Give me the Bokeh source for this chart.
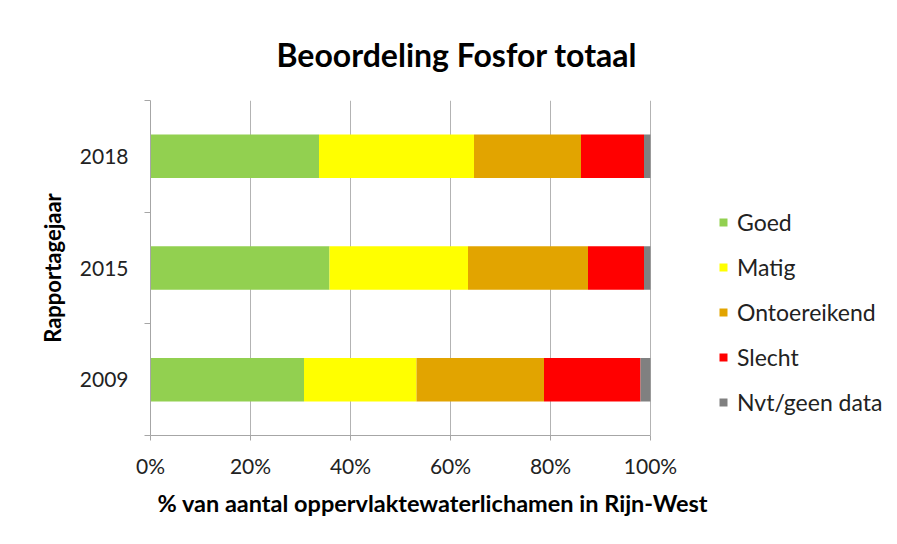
from bokeh.plotting import figure
from bokeh.models import (ColumnDataSource, FixedTicker, PrintfTickFormatter, Legend,
                          LegendItem, Title, Range1d)
from bokeh.embed import file_html
from bokeh.resources import INLINE

# ---- data ----
years = ["2009", "2015", "2018"]
categories = ["Goed", "Matig", "Ontoereikend", "Slecht", "Nvt/geen data"]
goed = [30.7, 35.8, 33.7]
matig = [22.5, 27.7, 31.0]
ontoereikend = [25.5, 24.0, 21.4]
slecht = [19.3, 11.2, 12.6]
nvt = [2.0, 1.3, 1.3]
colors = ["#92d050", "#ffff00", "#e2a400", "#ff0000", "#808080"]
x_ticks = [0, 20, 40, 60, 80, 100]

FONT = "Lato"
W, H = 892, 528
LEFT, TOP, RIGHT, BOTTOM = 150, 100, 0, 93
frame_w = W - LEFT - RIGHT
axis_px = 500  # pixel width of 0..100%
x_max = 100.0 * frame_w / axis_px

ypos = [i + 0.5 for i in range(len(years))]
source = ColumnDataSource(dict(y=ypos, Goed=goed, Matig=matig, Ontoereikend=ontoereikend,
                               Slecht=slecht, Nvt=nvt))
keys = ["Goed", "Matig", "Ontoereikend", "Slecht", "Nvt"]

p = figure(width=W, height=H, output_backend="svg", toolbar_location=None,
           x_range=Range1d(0, x_max), y_range=Range1d(0, len(years)),
           min_border_left=LEFT, min_border_right=RIGHT, min_border_top=TOP,
           min_border_bottom=BOTTOM)
p.outline_line_color = None
p.background_fill_color = "white"
p.border_fill_color = "white"

renderers = p.hbar_stack(keys, y="y", height=0.39, color=colors, source=source, line_color=None)

# title
p.title = Title(text="Beoordeling Fosfor totaal", align="left", text_font=FONT,
                text_font_size="32px", text_font_style="bold", text_color="#000000",
                offset=276 - LEFT, standoff=54)

# x label as a title below
xl = Title(text="% van aantal oppervlaktewaterlichamen in Rijn-West", align="left",
           text_font=FONT, text_font_size="23.5px", text_font_style="bold",
           text_color="#000000", offset=157 - LEFT, standoff=12)
p.add_layout(xl, "below")

# x axis
p.xaxis.ticker = FixedTicker(ticks=x_ticks)
p.xaxis.bounds = (0, 100)
p.xaxis.formatter = PrintfTickFormatter(format="%d%%")
p.xaxis.axis_line_color = "#a6a6a6"
p.xaxis.major_tick_line_color = "#a6a6a6"
p.xaxis.major_tick_out = 5
p.xaxis.major_tick_in = 0
p.xaxis.minor_tick_line_color = None
p.xaxis.major_label_text_font = FONT
p.xaxis.major_label_text_font_size = "21px"
p.xaxis.major_label_text_color = "#222222"
p.xaxis.major_label_standoff = 12

# y axis
p.yaxis.ticker = FixedTicker(ticks=ypos, minor_ticks=list(range(len(years) + 1)))
p.yaxis.major_label_overrides = {v: y for v, y in zip(ypos, years)}
p.yaxis.axis_line_color = "#a6a6a6"
p.yaxis.major_tick_line_color = None
p.yaxis.minor_tick_line_color = "#a6a6a6"
p.yaxis.minor_tick_out = 6
p.yaxis.minor_tick_in = 0
p.yaxis.major_label_text_font = FONT
p.yaxis.major_label_text_font_size = "21px"
p.yaxis.major_label_text_color = "#222222"
p.yaxis.major_label_standoff = 16
p.yaxis.axis_label = "Rapportagejaar"
p.yaxis.axis_label_text_font = FONT
p.yaxis.axis_label_text_font_size = "22px"
p.yaxis.axis_label_text_font_style = "bold"
p.yaxis.axis_label_text_color = "#000000"
p.yaxis.axis_label_standoff = 11

p.xgrid.grid_line_color = "#b3b3b3"
p.xgrid.ticker = FixedTicker(ticks=x_ticks)
p.xgrid.bounds = (0, 100)
p.ygrid.grid_line_color = None

legend = Legend(items=[LegendItem(label=c, renderers=[r]) for c, r in zip(categories, renderers)],
                location=(568, 19), border_line_color=None, background_fill_alpha=0,
                label_text_font=FONT, label_text_font_size="23px", label_text_color="#222222",
                glyph_width=10, glyph_height=10, label_height=20, spacing=17,
                label_standoff=9, padding=0, margin=0)
p.add_layout(legend, "center")

open("out.html", "w").write(file_html(p, INLINE))
